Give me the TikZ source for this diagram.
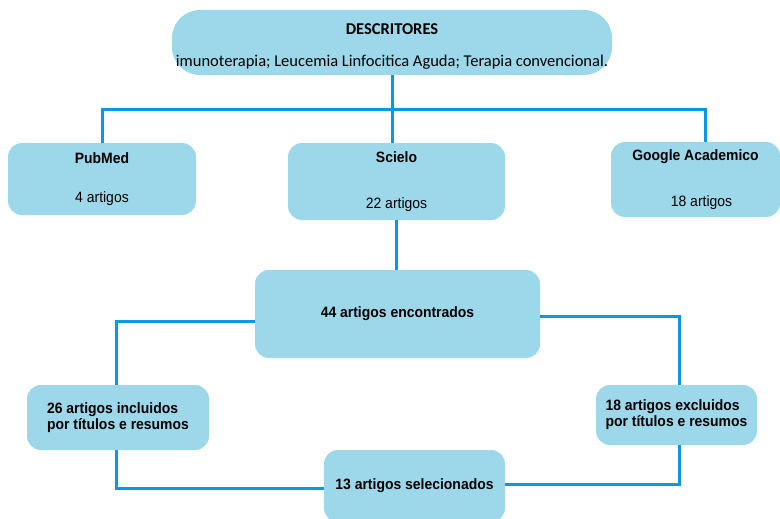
\documentclass[tikz,border=0pt]{standalone}
\usepackage{fontspec}
\setmainfont{Liberation Sans}
\newfontfamily\narrowfont[FakeStretch=0.93]{Liberation Sans}
\newfontfamily\calfont{Carlito}
\definecolor{boxfill}{RGB}{156,216,234}
\definecolor{linkblue}{RGB}{10,152,228}
\begin{document}
\begin{tikzpicture}[x=1pt,y=-1pt,
  box/.style={draw=none,fill=boxfill,rounded corners=14pt,inner sep=0pt,align=center,font=\narrowfont\fontsize{15}{17}\selectfont},
  link/.style={draw=linkblue,line width=3pt}]
\useasboundingbox (0,0) rectangle (780,519);
\node[box,rounded corners=28pt,minimum width=440pt,minimum height=65pt] (desc) at (392,42.5) {};
\node[inner sep=0pt,align=center,font=\calfont\fontsize{16.5}{18}\selectfont] (desctext) at (392,46.5)
  {\textbf{DESCRITORES}\\[14pt]imunoterapia; Leucemia Linfocitica Aguda; Terapia convencional.};
\node[box,minimum width=188pt,minimum height=72pt] (pub) at (102,179) {\textbf{PubMed}\\[22pt]4 artigos};
\node[box,minimum width=217pt,minimum height=77pt] (sci) at (396.5,181.5) {\textbf{Scielo}\\[29pt]22 artigos};
\node[box,minimum width=169pt,minimum height=75pt] (goo) at (695.5,179.5) {\textbf{Google Academico}\\[29pt]\hspace*{12pt}18 artigos};
\node[box,minimum width=285pt,minimum height=88pt] (enc) at (397.5,314) {\textbf{44 artigos encontrados}};
\node[box,minimum width=182pt,minimum height=65pt,align=left,font=\narrowfont\fontsize{15}{16}\selectfont] (inc) at (118,417.5) {\textbf{26 artigos incluidos}\\\textbf{por títulos e resumos}};
\node[box,minimum width=161pt,minimum height=60pt,align=left,font=\narrowfont\fontsize{15}{16}\selectfont] (exc) at (676.5,415) {\textbf{18 artigos excluidos}\\\textbf{por títulos e resumos}};
\node[box,minimum width=181pt,minimum height=72pt] (sel) at (414.5,486) {\textbf{13 artigos selecionados}};
\coordinate (j1) at (392,110);
\draw[link] (desc.south) -- (j1);
\draw[link] (pub.north) |- ([xshift=10pt]goo.north |- j1) -- ([xshift=10pt]goo.north);
\draw[link] (j1) -- (j1 |- sci.north);
\draw[link] (sci.south) -- (sci.south |- enc.north);
\draw[link] ([yshift=-7pt]enc.west) -| ([xshift=-2pt]inc.north);
\draw[link] ([yshift=-2pt]enc.east) -| ([xshift=2.5pt]exc.north);
\draw[link] ([xshift=-2pt]inc.south) |- ([yshift=-2pt]sel.west);
\draw[link] ([xshift=2.5pt]exc.south) |- ([yshift=2pt]sel.east);
\end{tikzpicture}
\end{document}
